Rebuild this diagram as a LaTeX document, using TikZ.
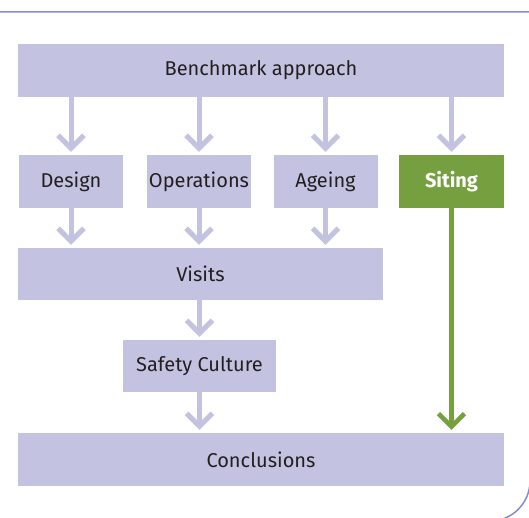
\documentclass[tikz,border=0pt]{standalone}
\usepackage{fontspec}
\setmainfont{Fira Sans}
\usetikzlibrary{arrows.meta}
\definecolor{lav}{RGB}{195,195,225}
\definecolor{leaf}{RGB}{118,160,64}
\definecolor{frame}{RGB}{135,140,205}
\definecolor{ink}{RGB}{35,31,32}
\tikzset{
  box/.style={fill=lav, text=ink, inner sep=0pt, minimum height=53pt, font=\fontsize{20}{23}\selectfont},
  flow/.style={draw=lav, line width=5pt, -{Straight Barb[length=13pt,width=26pt]}, shorten >=3pt}
}
\begin{document}
\begin{tikzpicture}[x=1pt,y=-1pt]
\clip (0,0) rectangle (529,518);

% frame
\draw[frame, line width=1.5pt] (-5,12) -- (530,12) -- (530,481) arc (0:90:40) -- (-5,521);

% boxes
\node[box, minimum width=486pt] (bench) at (261,70.5) {Benchmark approach};
\node[box, minimum width=104pt] (design) at (71,181.5) {Design};
\node[box, minimum width=104pt] (ops) at (199,181.5) {Operations};
\node[box, minimum width=104pt] (age) at (325.5,181.5) {Ageing};
\node[box, minimum width=105pt, fill=leaf, text=white, font=\fontsize{20}{23}\selectfont\bfseries] (siting) at (451.5,181.5) {Siting};
\node[box, minimum width=365pt, minimum height=52pt] (visits) at (200.5,274) {Visits};
\node[box, minimum width=153pt, minimum height=52pt] (safety) at (199.5,366) {Safety Culture};
\node[box, minimum width=486pt] (concl) at (261,459.5) {Conclusions};

% arrows
\foreach \n in {design,ops,age,siting}
  \draw[flow] (\n.north |- bench.south) -- (\n.north);
\foreach \n in {design,ops,age}
  \draw[flow] (\n.south) -- (\n.south |- visits.north);
\draw[flow] (safety.north |- visits.south) -- (safety.north);
\draw[flow] (safety.south) -- (safety.south |- concl.north);
\draw[flow, draw=leaf, line width=4.5pt] (siting.south) -- (siting.south |- concl.north);

\end{tikzpicture}
\end{document}
